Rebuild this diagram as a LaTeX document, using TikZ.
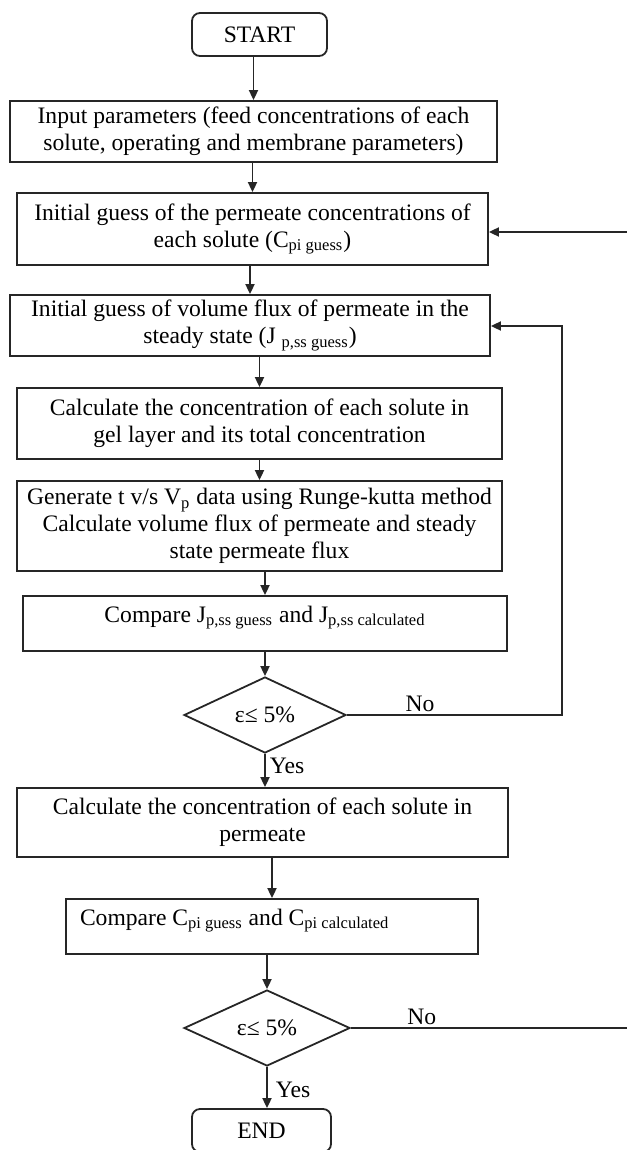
\documentclass[tikz,border=0pt]{standalone}
\usepackage{fontspec}
\setmainfont{Liberation Serif}
\usetikzlibrary{shapes.geometric,arrows.meta}

\begin{document}
\begin{tikzpicture}[x=0.5pt,y=-0.5pt,
        font=\fontsize{11.8}{13.5}\selectfont,
        box/.style={draw=black!85,line width=0.9pt,align=center,inner sep=0pt},
        term/.style={box,rounded corners=4pt},
        cmp/.style={box,text height=8pt,text depth=9.5pt},
        test/.style={draw=black!85,line width=0.9pt,diamond,aspect=2,inner sep=0pt},
        arr/.style={-{Triangle[length=5pt,width=4.5pt]},line width=0.9pt,draw=black!85}]
        \useasboundingbox (0,0) rectangle (626,1150);

        \node[term,minimum width=67.5pt,minimum height=21.5pt](start) at (259.5,34.5){START};
        \node[box,minimum width=243.5pt,minimum height=30.5pt](input) at (253.5,131.5){Input parameters (feed concentrations of each\\solute, operating and membrane parameters)};
        \node[box,minimum width=235.5pt,minimum height=36pt](guessc) at (252.5,229){Initial guess of the permeate concentrations of\\each solute (C\textsubscript{pi guess})};
        \node[box,minimum width=240pt,minimum height=30.5pt](guessj) at (250,325.5){Initial guess of volume flux of permeate in the\\steady state (J \textsubscript{p,ss guess})};
        \node[box,minimum width=242.5pt,minimum height=35.5pt](gel) at (259.5,423.5){Calculate the concentration of each solute in\\gel layer and its total concentration};
        \node[box,minimum width=242.5pt,minimum height=45pt](rk) at (259.5,526){Generate t v/s V\textsubscript{p} data using Runge-kutta method\\Calculate volume flux of permeate and steady\\state permeate flux};
        \node[cmp,minimum width=242pt,minimum height=27.5pt](compj) at (265,623.5){Compare J\textsubscript{p,ss guess} and J\textsubscript{p,ss calculated}};
        \node[test,minimum width=81pt,minimum height=38pt](err1) at (265,715){ε≤ 5\%};
        \node[box,minimum width=245.5pt,minimum height=34.5pt](perm) at (262.5,822.5){Calculate the concentration of each solute in\\permeate};
        \node[cmp,align=flush left,text width=192pt,inner xsep=7pt,minimum height=27.5pt](compc) at (272,926.5){Compare C\textsubscript{pi guess} and C\textsubscript{pi calculated}};
        \node[test,minimum width=83pt,minimum height=38pt](err2) at (267,1028){ε≤ 5\%};
        \node[term,minimum width=69.5pt,minimum height=21.5pt](end) at (261.5,1130.5){END};

        \coordinate(back1) at (562,326);
        \coordinate(back2) at (634,232);

        \draw[arr](start.south -| input)--(input);
        \draw[arr](input.south -| guessc)--(guessc);
        \draw[arr](guessc.south -| guessj)--(guessj);
        \draw[arr](guessj.south -| gel)--(gel);
        \draw[arr](gel.south -| rk)--(rk);
        \draw[arr](rk.south -| compj)--(compj);
        \draw[arr](compj.south -| err1)--(err1);
        \draw[arr](err1.south)--node[right,pos=0.35,inner sep=2pt]{Yes}(err1.south |- perm.north);
        \draw[arr](perm.south -| compc)--(compc);
        \draw[arr](compc.south -| err2)--(err2);
        \draw[arr](err2.south)--node[right,pos=0.55,inner sep=4pt]{Yes}(err2.south |- end.north);

        % loops back
        \draw[arr](err1.east)--node[above,pos=0.34,inner sep=1pt]{No}(err1.east -| back1)--(back1)--(back1 -| guessj.east);
        \draw[arr](err2.east)--node[above,pos=0.25,inner sep=1pt]{No}(err2.east -| back2)--(back2)--(back2 -| guessc.east);
    \end{tikzpicture}
\end{document}
